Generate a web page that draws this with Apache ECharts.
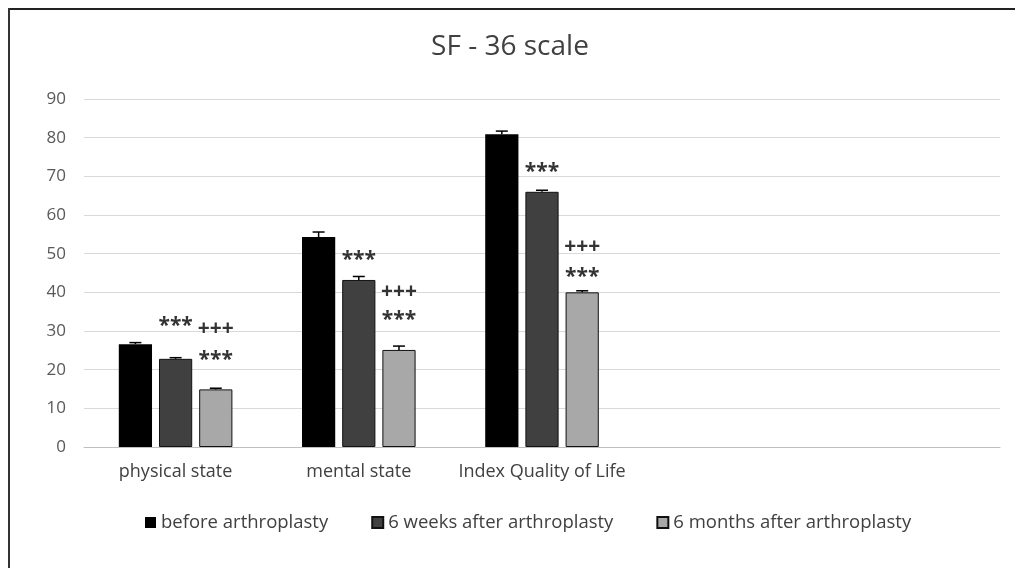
<!DOCTYPE html>
<html><head><meta charset="utf-8">
<script src="https://cdn.jsdelivr.net/npm/echarts@6/dist/echarts.min.js"></script>
<style>html,body{margin:0;padding:0;background:#fff}#c{width:1015px;height:568px}</style>
</head><body><div id="c"></div>
<script>
const categories = ['physical state', 'mental state', 'Index Quality of Life', '', ''];
const seriesNames = ['before arthroplasty', '6 weeks after arthroplasty', '6 months after arthroplasty'];
const beforeValues = [26.6, 54.3, 80.9];
const weeksValues = [22.8, 43.2, 66.0];
const monthsValues = [14.9, 25.1, 40.0];
const beforeErrors = [0.4, 1.3, 0.8];
const weeksErrors = [0.3, 0.9, 0.4];
const monthsErrors = [0.3, 1.0, 0.4];
const yMin = 0, yMax = 90, yStep = 10;
const annotationTexts = ['***', '+++', '***', '***', '+++', '***', '***', '+++', '***'];
const annotationCats = [0, 0, 0, 1, 1, 1, 2, 2, 2];
const annotationBars = [1, 2, 2, 1, 2, 2, 1, 2, 2];
const annotationValues = [32.5, 30.6, 23.8, 49.6, 40.1, 34.1, 72.3, 51.6, 45.3];

const FONT = '"Open Sans", "DejaVu Sans", sans-serif';
const CAT_GAP = 0.38, BAR_GAP = 0.21;
function barOffset(api, bar) {
  const band = api.size([1, 0])[0];
  const bw = band * (1 - CAT_GAP) / (3 + 2 * BAR_GAP);
  return { off: (bar - 1) * bw * (1 + BAR_GAP), bw: bw };
}
const values = [beforeValues, weeksValues, monthsValues];
const errors = [beforeErrors, weeksErrors, monthsErrors];
const colors = ['#000000', '#404040', '#a8a8a8'];

const series = [];
seriesNames.forEach((name, i) => {
  series.push({
    name: name, type: 'bar', data: values[i],
    barGap: (BAR_GAP * 100) + '%', barCategoryGap: (CAT_GAP * 100) + '%',
    itemStyle: { color: colors[i], borderColor: '#111', borderWidth: i === 0 ? 0 : 1 }
  });
});
seriesNames.forEach((name, i) => {
  series.push({
    type: 'custom', silent: true, z: 5,
    data: values[i].map((v, k) => [k, v, errors[i][k]]),
    encode: { x: 0, y: 1 },
    renderItem: function (params, api) {
      const k = api.value(0), v = api.value(1), e = api.value(2);
      const o = barOffset(api, i);
      const p0 = api.coord([k, v]);
      const p1 = api.coord([k, v + e]);
      const x = p0[0] + o.off;
      const hw = 6;
      return { type: 'group', children: [
        { type: 'line', shape: { x1: x, y1: p0[1], x2: x, y2: p1[1] }, style: { stroke: '#000', lineWidth: 1.5 } },
        { type: 'line', shape: { x1: x - hw, y1: p1[1], x2: x + hw, y2: p1[1] }, style: { stroke: '#000', lineWidth: 1.5 } }
      ]};
    }
  });
});
series.push({
  type: 'custom', silent: true, z: 6,
  data: annotationCats.map((c, k) => [c, annotationValues[k], annotationBars[k]]),
  encode: { x: 0, y: 1 },
  renderItem: function (params, api) {
    const c = api.value(0), v = api.value(1), b = api.value(2);
    const o = barOffset(api, b);
    const p = api.coord([c, v]);
    const t = annotationTexts[params.dataIndex];
    return { type: 'text', style: {
      x: p[0] + o.off, y: p[1] + (t === '***' ? 5 : 0), text: t, align: 'center', verticalAlign: 'middle',
      fontSize: 21, fontWeight: 'bold', fontFamily: FONT, fill: '#333'
    }};
  }
});

const chart = echarts.init(document.getElementById('c'));
chart.setOption({
  backgroundColor: '#fff',
  animation: false,
  title: { text: 'SF - 36 scale', left: 505, textAlign: 'center', top: 28,
    textStyle: { fontFamily: FONT, fontSize: 28, fontWeight: 'normal', color: '#404040' } },
  legend: { data: seriesNames, left: 140, top: 508, itemWidth: 11, itemHeight: 11, itemGap: 43,
    icon: 'rect',
    textStyle: { fontFamily: FONT, fontSize: 18.5, color: '#404040' } },
  grid: { left: 84, right: 15, top: 99, bottom: 121 },
  xAxis: { type: 'category', data: categories,
    axisLine: { lineStyle: { color: '#bfbfbf', width: 1 } }, axisTick: { show: false },
    axisLabel: { fontFamily: FONT, fontSize: 18, color: '#404040', margin: 16, interval: 0 } },
  yAxis: { type: 'value', min: yMin, max: yMax, interval: yStep,
    axisLine: { show: false }, axisTick: { show: false },
    splitLine: { lineStyle: { color: '#d9d9d9', width: 1 } },
    axisLabel: { fontFamily: FONT, fontSize: 17, color: '#595959', margin: 18 } },
  graphic: [
    { type: 'line', shape: { x1: 8, y1: 9, x2: 1015, y2: 9 }, style: { stroke: '#222', lineWidth: 2 } },
    { type: 'line', shape: { x1: 9, y1: 8, x2: 9, y2: 568 }, style: { stroke: '#333', lineWidth: 2 } }
  ],
  series: series
});
</script></body></html>
